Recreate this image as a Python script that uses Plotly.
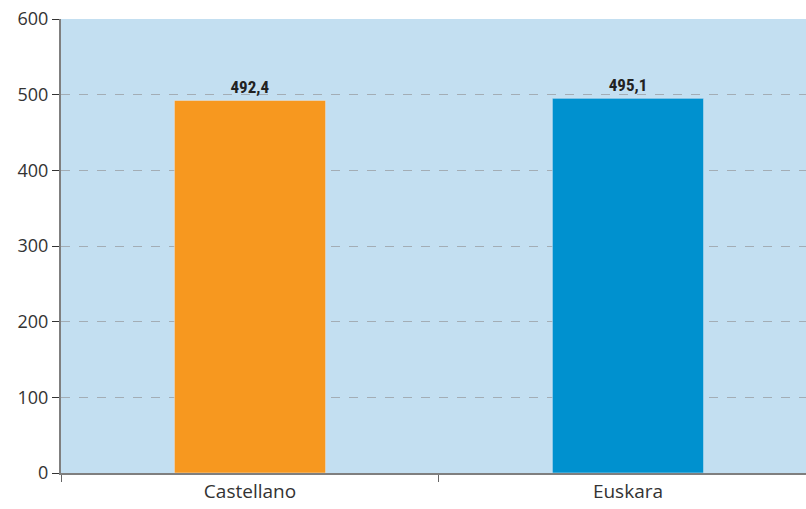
import plotly.graph_objects as go

categories = ["Castellano", "Euskara"]
values = [492.4, 495.1]
colors = ["#F7981F", "#0091CF"]
y_ticks = [0, 100, 200, 300, 400, 500, 600]

fig = go.Figure()
fig.add_trace(go.Bar(
    x=categories, y=values, marker_color=colors, width=0.40,
    texttemplate="%{y:.1f}", textposition="outside", cliponaxis=False,
    textfont=dict(family="Liberation Sans Narrow, Roboto Condensed, Arial Narrow, sans-serif",
                  size=17, color="#222222", weight="bold"),
))
fig.update_layout(
    width=806, height=509,
    margin=dict(l=61, r=0, t=19, b=36, autoexpand=False),
    plot_bgcolor="#C3DFF1", paper_bgcolor="white",
    separators=",.",
    showlegend=False,
    font=dict(family="Open Sans, Noto Sans, sans-serif", size=18, color="#333333"),
)
fig.update_xaxes(
    range=[-0.5, 1.471], tickson="boundaries", ticks="outside", ticklen=7,
    tickcolor="#666666", showline=True, linecolor="#7f7f7f", linewidth=2,
    showgrid=False, tickfont=dict(size=19, color="#333333"), automargin=False,
    ticklabeloverflow="allow",
)
fig.update_yaxes(
    range=[0, 600], tickvals=y_ticks, ticks="outside", ticklen=7, tickcolor="#333333",
    showline=True, linecolor="#7f7f7f", linewidth=2,
    showgrid=True, gridcolor="#a3adb5", griddash="dash", gridwidth=1,
    zeroline=False, tickfont=dict(size=18, color="#333333"), automargin=False,
    ticklabeloverflow="allow",
)
fig.write_html(
    "out.html",
    config={"displayModeBar": False},
    post_script="document.body.style.margin='0';document.body.style.overflow='hidden';",
)
